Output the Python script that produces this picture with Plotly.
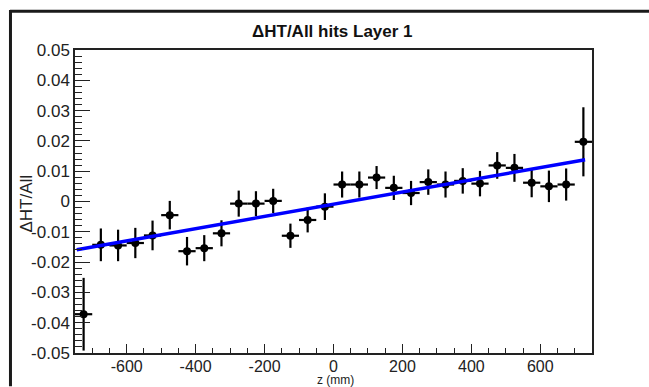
import plotly.graph_objects as go

# ---- data ----
z_centers = [-725, -675, -625, -575, -525, -475, -425, -375, -325, -275,
             -225, -175, -125, -75, -25, 25, 75, 125, 175, 225,
             275, 325, 375, 425, 475, 525, 575, 625, 675, 725]
ratio = [-0.0372, -0.0143, -0.0145, -0.0137, -0.0112, -0.0045, -0.0164, -0.0154, -0.0105, -0.0007,
         -0.0007, 0.0002, -0.0113, -0.0061, -0.0017, 0.0056, 0.0056, 0.0079, 0.0045, 0.0028,
         0.0064, 0.0056, 0.0068, 0.0059, 0.0119, 0.0111, 0.0062, 0.0050, 0.0056, 0.0197]
ratio_err = [0.0120, 0.0054, 0.0052, 0.0050, 0.0049, 0.0047, 0.0047, 0.0043, 0.0043, 0.0043,
             0.0041, 0.0040, 0.0040, 0.0041, 0.0044, 0.0043, 0.0043, 0.0038, 0.0040, 0.0040,
             0.0042, 0.0043, 0.0042, 0.0042, 0.0044, 0.0046, 0.0048, 0.0052, 0.0053, 0.0114]
bin_half_width = [25] * len(z_centers)

fit_z = [-745, 730]
fit_values = [-0.0159, 0.0138]

y_tickvals = [0.05, 0.04, 0.03, 0.02, 0.01, 0, -0.01, -0.02, -0.03, -0.04, -0.05]
y_ticktext = ["0.05", "0.04", "0.03", "0.02", "0.01", "0", "-0.01", "-0.02", "-0.03", "-0.04", "-0.05"]
x_tickvals = [-600, -400, -200, 0, 200, 400, 600]
x_ticktext = ["-600", "-400", "-200", "0", "200", "400", "600"]

title_text = "<b>ΔHT/All hits Layer 1</b>"
x_title = "z (mm)"
y_title = "ΔHT/All"

FONT = "Liberation Sans, Arial, sans-serif"

fig = go.Figure()
fig.add_trace(go.Scatter(
    x=z_centers, y=ratio, mode="markers",
    marker=dict(color="black", size=8),
    error_y=dict(type="data", array=ratio_err, color="black", thickness=2.2, width=0),
    error_x=dict(type="data", array=bin_half_width, color="black", thickness=2.2, width=0),
    showlegend=False, cliponaxis=True,
))
fig.add_trace(go.Scatter(
    x=fit_z, y=fit_values, mode="lines",
    line=dict(color="#0000ff", width=3.5),
    showlegend=False,
))

axis_common = dict(
    showgrid=False, zeroline=False, showline=True, linecolor="#222222", linewidth=1.5,
    mirror=True, ticks="inside", tickcolor="#222222", tickwidth=1.2,
)
fig.update_xaxes(range=[-750, 750], tickvals=x_tickvals, ticktext=x_ticktext, ticklen=9,
                 tickfont=dict(family=FONT, size=16, color="#222222"), ticklabelstandoff=-2,
                 minor=dict(ticks="inside", ticklen=5, dtick=50, tick0=0, tickcolor="#222222", tickwidth=1.2),
                 **axis_common)
fig.update_yaxes(range=[-0.05, 0.05], tickvals=y_tickvals, ticktext=y_ticktext, ticklen=15,
                 tickfont=dict(family=FONT, size=17, color="#222222"),
                 minor=dict(ticks="inside", ticklen=7, dtick=0.002, tick0=0, tickcolor="#222222", tickwidth=1.2),
                 **axis_common)

fig.update_layout(
    width=649, height=387,
    margin=dict(l=75, r=57, t=50, b=31),
    paper_bgcolor="white", plot_bgcolor="white",
    font=dict(family=FONT, color="#222222"),
    annotations=[
        dict(text=title_text, xref="paper", yref="paper", x=0.499, y=1.062,
             xanchor="center", yanchor="middle", showarrow=False,
             font=dict(family=FONT, size=17, color="#111111")),
        dict(text=x_title, xref="paper", yref="paper", x=0.503, y=-0.088,
             xanchor="center", yanchor="middle", showarrow=False,
             font=dict(family=FONT, size=12, color="#222222")),
        dict(text=y_title, xref="paper", yref="paper", x=-0.093, y=0.493,
             xanchor="center", yanchor="middle", showarrow=False, textangle=-90,
             font=dict(family=FONT, size=17, color="#222222")),
    ],
    shapes=[
        dict(type="line", xref="paper", yref="paper", x0=-0.1257, x1=1.12, y0=1.1275, y1=1.1275,
             line=dict(color="#1a1a1a", width=3)),
        dict(type="line", xref="paper", yref="paper", x0=-0.1248, x1=-0.1248, y0=1.132, y1=-0.11,
             line=dict(color="#1a1a1a", width=3)),
    ],
)

# remove the default body margin so the figure fills the window exactly
fig.write_html(
    "out.html",
    config={"displayModeBar": False},
    post_script=("document.body.style.margin='0';"
                 "document.body.style.overflow='hidden';"
                 "document.documentElement.style.overflow='hidden';"),
)
